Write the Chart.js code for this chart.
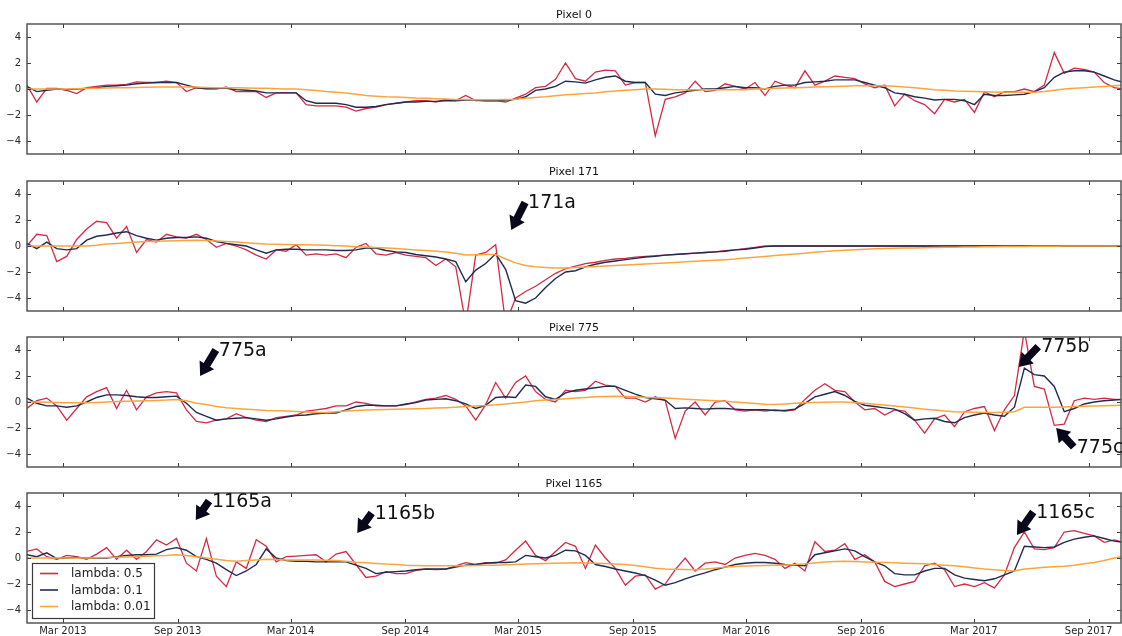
<!DOCTYPE html>
<html><head><meta charset="utf-8">
<script src="https://cdn.jsdelivr.net/npm/chart.js@4.4.1/dist/chart.umd.min.js"></script>
<style>
html,body{margin:0;padding:0;background:#fff;}
#wrap{position:relative;width:1122px;height:636px;overflow:hidden;background:#fff;}
#wrap canvas{position:absolute;left:0;}
</style></head>
<body><div id="wrap">
<canvas id="c0" width="1122" height="156" style="top:0px"></canvas>
<canvas id="c1" width="1122" height="156" style="top:157px"></canvas>
<canvas id="c2" width="1122" height="156" style="top:313px"></canvas>
<canvas id="c3" width="1122" height="167" style="top:469px"></canvas>
</div>
<script>
// ---- observation days (days since 2013-01-01) ----
const obsDays = [1,17,33,49,65,81,97,113,129,145,161,177,193,209,225,241,257,273,289,305,321,337,353,369,385,401,417,433,449,465,481,497,513,529,545,561,577,593,609,625,641,657,673,689,705,721,737,753,769,785,801,817,833,849,865,881,897,913,929,945,961,977,993,1009,1025,1041,1057,1073,1089,1105,1121,1137,1153,1169,1185,1201,1217,1233,1249,1265,1281,1297,1313,1329,1345,1361,1377,1393,1409,1425,1441,1457,1473,1489,1505,1521,1537,1553,1569,1585,1601,1617,1633,1649,1665,1681,1697,1713,1729,1745,1761];

// ---- x tick positions (days since 2013-01-01) and labels ----
const xTickDays = [59,243,424,608,789,973,1155,1339,1520,1704];
const xTickLabels = ['Mar 2013','Sep 2013','Mar 2014','Sep 2014','Mar 2015','Sep 2015','Mar 2016','Sep 2016','Mar 2017','Sep 2017'];
const yTickValues = [-4,-2,0,2,4];

const seriesLabels = ['lambda: 0.5','lambda: 0.1','lambda: 0.01'];
const panelTitles = ['Pixel 0','Pixel 171','Pixel 775','Pixel 1165'];

// ---- Pixel 0 ----
const p0_l05 = [0.3,-1.0,0.05,0.05,-0.1,-0.35,0.1,0.2,0.3,0.3,
0.35,0.55,0.5,0.5,0.6,0.5,-0.2,0.1,0.0,0.0,
0.15,-0.2,-0.2,-0.2,-0.65,-0.3,-0.3,-0.3,-1.2,-1.3,
-1.3,-1.3,-1.4,-1.7,-1.5,-1.4,-1.2,-1.1,-1.0,-0.9,
-0.9,-1.0,-0.8,-0.9,-0.5,-0.9,-0.9,-0.9,-1.0,-0.7,
-0.4,0.1,0.2,0.75,2.0,0.8,0.6,1.3,1.45,1.4,
0.3,0.5,0.5,-3.6,-0.8,-0.6,-0.3,0.6,-0.2,-0.1,
0.4,0.2,0.0,0.5,-0.5,0.6,0.3,0.1,1.4,0.3,
0.6,1.0,0.9,0.8,0.4,0.1,0.3,-1.3,-0.4,-0.9,
-1.2,-1.9,-0.8,-1.0,-0.8,-1.8,-0.2,-0.6,-0.2,-0.2,
0.0,-0.2,0.3,2.8,1.2,1.6,1.5,1.3,0.5,0.1,0.0];
const p0_l01 = [0.2,-0.2,-0.1,0.0,-0.05,0.0,0.05,0.1,0.2,0.25,
0.3,0.4,0.45,0.5,0.5,0.5,0.3,0.1,0.05,0.05,
0.05,-0.05,-0.1,-0.15,-0.3,-0.3,-0.3,-0.3,-0.9,-1.1,
-1.1,-1.1,-1.2,-1.4,-1.4,-1.35,-1.2,-1.1,-1.0,-1.0,
-0.95,-0.95,-0.9,-0.9,-0.85,-0.85,-0.9,-0.9,-0.85,-0.8,
-0.6,-0.1,0.0,0.2,0.6,0.55,0.45,0.7,0.9,1.0,
0.6,0.5,0.5,-0.4,-0.5,-0.3,-0.2,-0.1,0.0,0.0,
0.1,0.2,0.1,0.1,0.0,0.2,0.3,0.3,0.5,0.55,
0.6,0.7,0.7,0.7,0.5,0.3,0.1,-0.3,-0.4,-0.6,
-0.7,-0.85,-0.8,-0.8,-0.9,-1.2,-0.4,-0.5,-0.5,-0.45,
-0.4,-0.2,0.1,0.9,1.3,1.4,1.4,1.3,1.0,0.7,0.5];
const p0_l001 = [0.0,0.0,0.0,0.0,0.0,0.02,0.05,0.05,0.08,0.1,
0.1,0.12,0.13,0.15,0.15,0.15,0.15,0.15,0.12,0.1,
0.1,0.1,0.08,0.05,0.05,0.02,0.0,0.0,-0.05,-0.12,
-0.2,-0.25,-0.3,-0.4,-0.5,-0.55,-0.6,-0.62,-0.65,-0.7,
-0.72,-0.75,-0.77,-0.8,-0.8,-0.82,-0.82,-0.82,-0.8,-0.78,
-0.72,-0.65,-0.6,-0.52,-0.45,-0.4,-0.35,-0.3,-0.22,-0.15,
-0.1,-0.05,0.0,0.0,-0.02,-0.05,-0.05,-0.05,-0.05,-0.05,
-0.05,-0.05,-0.05,0.0,0.02,0.05,0.08,0.1,0.12,0.15,
0.18,0.2,0.22,0.25,0.25,0.25,0.25,0.22,0.15,0.1,
0.02,-0.05,-0.1,-0.15,-0.18,-0.2,-0.22,-0.23,-0.25,-0.25,
-0.25,-0.25,-0.2,-0.1,0.0,0.05,0.1,0.15,0.2,0.25,0.3];

// ---- Pixel 171 ----
const p171_l05 = [0.0,0.9,0.8,-1.2,-0.8,0.5,1.3,1.9,1.8,0.6,
1.5,-0.5,0.5,0.3,0.9,0.7,0.6,0.9,0.5,-0.1,
0.2,0.0,-0.3,-0.7,-1.0,-0.3,-0.4,0.1,-0.7,-0.6,
-0.7,-0.6,-0.9,-0.1,0.2,-0.6,-0.7,-0.5,-0.7,-0.8,
-0.9,-1.5,-1.0,-1.6,-6.0,-0.7,-0.5,0.1,-6.0,-4.0,
-3.5,-3.1,-2.6,-2.1,-1.75,-1.55,-1.35,-1.25,-1.1,-1.0,
-0.95,-0.85,-0.8,-0.75,-0.7,-0.65,-0.6,-0.55,-0.5,-0.45,
-0.35,-0.3,-0.2,-0.1,0.0,0.0,0.0,0.0,0.0,0.0,
0.0,0.0,0.0,0.0,0.0,0.0,0.0,0.0,0.0,0.0,
0.0,0.0,0.0,0.0,0.0,0.0,0.0,0.0,0.0,0.0,
0.0,0.0,0.0,0.0,0.0,0.0,0.0,0.0,0.0,0.0,0.0];
const p171_l01 = [0.2,-0.2,0.3,-0.2,-0.3,-0.2,0.45,0.75,0.85,1.0,
1.1,0.8,0.6,0.45,0.6,0.65,0.65,0.7,0.6,0.35,
0.2,0.1,0.0,-0.3,-0.55,-0.3,-0.25,-0.25,-0.3,-0.3,
-0.3,-0.35,-0.35,-0.3,-0.15,-0.15,-0.35,-0.45,-0.5,-0.65,
-0.75,-0.85,-1.0,-1.2,-2.75,-1.85,-1.35,-0.6,-1.8,-4.2,
-4.4,-4.0,-3.2,-2.5,-2.0,-1.9,-1.6,-1.4,-1.25,-1.15,
-1.05,-0.95,-0.85,-0.8,-0.7,-0.65,-0.6,-0.55,-0.5,-0.45,
-0.4,-0.3,-0.25,-0.15,-0.05,0.0,0.0,0.0,0.0,0.0,
0.0,0.0,0.0,0.0,0.0,0.0,0.0,0.0,0.0,0.0,
0.0,0.0,0.0,0.0,0.0,0.0,0.0,0.0,0.0,0.0,
0.0,0.0,0.0,0.0,0.0,0.0,0.0,0.0,0.0,0.0,0.0];
const p171_l001 = [0.0,0.0,0.0,0.0,0.0,0.0,0.0,0.05,0.15,0.2,
0.25,0.3,0.35,0.37,0.39,0.4,0.42,0.45,0.43,0.38,
0.34,0.3,0.25,0.2,0.16,0.14,0.12,0.1,0.09,0.08,
0.05,0.02,0.0,-0.05,-0.08,-0.12,-0.16,-0.2,-0.25,-0.3,
-0.35,-0.4,-0.47,-0.55,-0.7,-0.68,-0.66,-0.65,-1.0,-1.3,
-1.5,-1.6,-1.65,-1.7,-1.7,-1.66,-1.62,-1.58,-1.54,-1.5,
-1.46,-1.42,-1.38,-1.34,-1.3,-1.26,-1.22,-1.18,-1.14,-1.1,
-1.05,-1.0,-0.93,-0.86,-0.8,-0.74,-0.68,-0.62,-0.55,-0.48,
-0.42,-0.37,-0.32,-0.28,-0.25,-0.22,-0.2,-0.18,-0.16,-0.15,
-0.13,-0.12,-0.1,-0.09,-0.08,-0.07,-0.06,-0.05,-0.04,-0.03,
-0.03,-0.02,-0.02,-0.01,0.0,0.0,0.0,0.0,0.0,0.0,0.0];

// ---- Pixel 775 ----
const p775_l05 = [-0.5,0.1,0.3,-0.3,-1.4,-0.5,0.4,0.8,1.1,-0.5,
0.9,-0.6,0.4,0.7,0.8,0.7,-0.6,-1.5,-1.6,-1.4,
-1.3,-0.9,-1.2,-1.4,-1.5,-1.2,-1.1,-1.0,-0.7,-0.6,
-0.5,-0.3,-0.3,0.0,-0.1,-0.3,-0.3,-0.3,-0.2,0.0,
0.2,0.3,0.5,0.2,-0.3,-1.4,-0.2,1.5,0.3,1.5,
2.0,0.8,0.2,0.0,0.9,0.8,0.9,1.6,1.3,1.2,
0.3,0.3,0.0,0.4,0.1,-2.8,-0.7,0.0,-1.0,0.0,
0.1,-0.6,-0.7,-0.6,-0.7,-0.6,-0.7,-0.6,0.2,0.9,
1.4,0.9,0.8,0.0,-0.6,-0.5,-1.0,-0.6,-0.7,-1.4,
-2.4,-1.3,-1.0,-1.9,-0.75,-0.5,-0.35,-2.2,-0.6,0.5,
5.5,1.2,1.0,-1.8,-1.7,0.1,0.3,0.2,0.3,0.2,0.2];
const p775_l01 = [0.3,-0.1,-0.3,-0.3,-0.4,-0.3,0.0,0.35,0.55,0.55,
0.5,0.4,0.35,0.35,0.4,0.45,-0.1,-0.8,-1.1,-1.4,
-1.3,-1.25,-1.2,-1.3,-1.4,-1.3,-1.15,-1.05,-1.0,-0.9,
-0.85,-0.85,-0.6,-0.35,-0.25,-0.25,-0.3,-0.3,-0.15,-0.05,
0.15,0.2,0.25,0.1,-0.15,-0.5,-0.25,0.35,0.4,0.35,
1.3,1.2,0.4,0.2,0.7,0.9,1.0,1.1,1.2,1.2,
0.9,0.6,0.35,0.25,0.15,-0.5,-0.45,-0.5,-0.55,-0.5,
-0.5,-0.55,-0.6,-0.6,-0.6,-0.65,-0.65,-0.55,-0.1,0.4,
0.6,0.8,0.5,0.05,-0.25,-0.35,-0.45,-0.55,-0.9,-1.4,
-1.3,-1.25,-1.5,-1.6,-1.2,-1.0,-0.85,-1.0,-1.1,-0.4,
2.6,2.1,2.0,1.2,-0.75,-0.5,-0.15,0.0,0.1,0.15,0.2];
const p775_l001 = [0.0,0.0,-0.02,-0.03,-0.05,-0.05,-0.05,-0.03,0.0,0.03,
0.05,0.07,0.1,0.12,0.15,0.2,0.1,-0.1,-0.2,-0.35,
-0.45,-0.5,-0.55,-0.6,-0.65,-0.68,-0.7,-0.74,-0.77,-0.8,
-0.8,-0.75,-0.7,-0.65,-0.62,-0.6,-0.57,-0.55,-0.53,-0.51,
-0.5,-0.47,-0.44,-0.4,-0.35,-0.3,-0.26,-0.22,-0.15,-0.08,
0.0,0.1,0.15,0.2,0.25,0.3,0.35,0.4,0.43,0.45,
0.43,0.4,0.36,0.33,0.3,0.26,0.22,0.18,0.14,0.1,
0.05,0.0,-0.06,-0.12,-0.17,-0.2,-0.15,-0.1,-0.06,-0.03,
-0.01,0.0,0.0,-0.05,-0.1,-0.17,-0.24,-0.31,-0.38,-0.47,
-0.55,-0.62,-0.7,-0.75,-0.77,-0.79,-0.8,-0.8,-0.78,-0.75,
-0.4,-0.4,-0.4,-0.4,-0.38,-0.35,-0.33,-0.3,-0.28,-0.26,-0.25];

// ---- Pixel 1165 ----
const p1165_l05 = [0.5,0.7,0.1,-0.1,0.2,0.1,-0.1,0.3,0.8,-0.1,
0.6,-0.1,0.5,1.4,1.0,1.5,-0.4,-1.0,1.5,-1.4,
-2.2,-0.3,-0.8,1.4,0.9,-0.3,0.1,0.15,0.2,0.25,
-0.3,0.3,0.5,-0.5,-1.5,-1.4,-1.05,-1.2,-1.2,-0.95,
-0.85,-0.9,-0.85,-0.6,-0.35,-0.5,-0.35,-0.4,-0.15,0.6,
1.3,0.2,-0.2,0.5,1.2,0.9,-0.8,1.0,0.0,-0.8,
-2.1,-1.4,-1.3,-2.4,-2.0,-0.9,0.0,-1.0,-0.4,-0.3,
-0.5,0.0,0.2,0.35,0.2,-0.1,-0.8,-0.4,-1.0,1.25,
0.5,0.6,1.1,-0.1,0.25,-0.3,-1.8,-2.2,-2.0,-1.8,
-0.6,-0.4,-0.9,-2.2,-2.0,-2.2,-1.9,-2.3,-1.3,0.8,
2.0,0.7,0.65,0.8,2.0,2.1,1.9,1.7,1.2,1.4,1.2];
const p1165_l01 = [0.25,0.1,0.4,-0.05,0.0,0.05,0.0,0.0,0.0,0.1,
0.2,0.25,0.25,0.3,0.65,0.8,0.6,0.1,-0.1,-0.4,
-0.9,-1.35,-1.0,-0.5,0.7,0.0,-0.2,-0.25,-0.25,-0.3,
-0.3,-0.3,-0.3,-0.55,-0.8,-1.2,-1.1,-1.05,-1.0,-0.9,
-0.85,-0.85,-0.85,-0.7,-0.55,-0.5,-0.4,-0.35,-0.35,-0.3,
0.2,0.1,0.0,0.2,0.6,0.55,0.2,-0.5,-0.65,-0.85,
-1.0,-1.15,-1.35,-1.7,-2.1,-1.9,-1.6,-1.35,-1.15,-0.9,
-0.7,-0.5,-0.4,-0.35,-0.35,-0.4,-0.5,-0.55,-0.6,0.25,
0.4,0.55,0.7,0.55,0.1,-0.3,-0.6,-1.2,-1.3,-1.3,
-1.0,-0.8,-0.8,-1.3,-1.55,-1.65,-1.75,-1.6,-1.3,-1.0,
0.9,0.85,0.8,0.85,1.2,1.45,1.6,1.7,1.5,1.3,1.2];
const p1165_l001 = [0.0,0.0,0.0,0.0,0.0,0.0,0.0,0.02,0.04,0.06,
0.08,0.1,0.13,0.17,0.2,0.25,0.2,0.1,0.0,-0.1,
-0.2,-0.25,-0.2,-0.15,-0.1,-0.12,-0.15,-0.15,-0.15,-0.15,
-0.17,-0.2,-0.25,-0.32,-0.37,-0.42,-0.47,-0.5,-0.55,-0.58,
-0.6,-0.6,-0.6,-0.6,-0.6,-0.58,-0.56,-0.55,-0.52,-0.5,
-0.47,-0.45,-0.42,-0.4,-0.38,-0.37,-0.38,-0.4,-0.43,-0.46,
-0.5,-0.58,-0.68,-0.78,-0.85,-0.87,-0.88,-0.9,-0.85,-0.78,
-0.7,-0.65,-0.62,-0.6,-0.57,-0.55,-0.53,-0.5,-0.45,-0.38,
-0.3,-0.27,-0.25,-0.27,-0.3,-0.33,-0.35,-0.37,-0.4,-0.42,
-0.45,-0.5,-0.55,-0.6,-0.68,-0.76,-0.84,-0.9,-0.97,-1.0,
-0.85,-0.78,-0.72,-0.68,-0.63,-0.55,-0.45,-0.35,-0.2,0.0,0.15];

// ---- annotations: arrow tip and text anchor, in data coordinates (day, value) ----
const notes171 = [{label:'171a', tip:[778,1.23], text:[805,3.27]}];
const notes775 = [
  {label:'775a', tip:[279,2.0], text:[309,3.92]},
  {label:'775b', tip:[1592,2.69], text:[1628,4.19]},
  {label:'775c', tip:[1652,-2.0], text:[1685,-3.54]}
];
const notes1165 = [
  {label:'1165a', tip:[272,2.92], text:[298,4.31]},
  {label:'1165b', tip:[531,1.92], text:[559,3.38]},
  {label:'1165c', tip:[1589,1.77], text:[1620,3.46]}
];

// ---- styling ----
const COLORS = ['#d42a45', '#1e2c52', '#fda53c'];
const WIDTHS = [1.3, 1.4, 1.5];
Chart.defaults.font.family = '"DejaVu Sans", sans-serif';
Chart.defaults.color = '#262626';

function drawArrow(ctx, tx, ty, hx, hy) {
  const dx = hx - tx, dy = hy - ty, L = Math.hypot(dx, dy);
  const ux = dx / L, uy = dy / L, nx = -uy, ny = ux;
  const sw = 3.8, hw = 8.5, hl = 13;
  const bx = hx - ux * hl, by = hy - uy * hl;
  ctx.beginPath();
  ctx.moveTo(tx + nx * sw, ty + ny * sw);
  ctx.lineTo(bx + nx * sw, by + ny * sw);
  ctx.lineTo(bx + nx * hw, by + ny * hw);
  ctx.lineTo(hx, hy);
  ctx.lineTo(bx - nx * hw, by - ny * hw);
  ctx.lineTo(bx - nx * sw, by - ny * sw);
  ctx.lineTo(tx - nx * sw, ty - ny * sw);
  ctx.closePath();
  ctx.fill();
}

function makeDecor(notes, withLegend) {
  return {
    id: 'decor',
    afterDatasetsDraw(chart) {
      if (!withLegend) return;
      const ctx = chart.ctx, a = chart.chartArea;
      const bx = a.left + 5, by = a.bottom - 60, bw = 122, bh = 55;
      ctx.save();
      ctx.fillStyle = '#fff';
      ctx.fillRect(bx, by, bw, bh);
      ctx.strokeStyle = '#3a3a3a';
      ctx.lineWidth = 1.2;
      ctx.strokeRect(bx + 0.5, by + 0.5, bw, bh);
      ctx.font = '12px "DejaVu Sans"';
      ctx.textBaseline = 'middle';
      ctx.textAlign = 'left';
      chart.data.datasets.forEach((ds, k) => {
        const yy = by + 10.5 + k * 16.5;
        ctx.strokeStyle = ds.borderColor;
        ctx.lineWidth = 1.6;
        ctx.beginPath();
        ctx.moveTo(bx + 8, yy);
        ctx.lineTo(bx + 26, yy);
        ctx.stroke();
        ctx.fillStyle = '#1a1a1a';
        ctx.fillText(ds.label, bx + 39, yy + 0.5);
      });
      ctx.restore();
    },
    afterDraw(chart) {
      const ctx = chart.ctx, a = chart.chartArea;
      const xs = chart.scales.x, ys = chart.scales.y;
      ctx.save();
      ctx.strokeStyle = '#3c3c3c';
      ctx.lineWidth = 1;
      ctx.beginPath();
      xs.ticks.forEach(t => {
        const px = Math.round(xs.getPixelForValue(t.value)) + 0.5;
        ctx.moveTo(px, a.top); ctx.lineTo(px, a.top + 4);
        ctx.moveTo(px, a.bottom); ctx.lineTo(px, a.bottom - 4);
      });
      ys.ticks.forEach(t => {
        const py = Math.round(ys.getPixelForValue(t.value)) + 0.5;
        ctx.moveTo(a.left, py); ctx.lineTo(a.left + 4, py);
        ctx.moveTo(a.right, py); ctx.lineTo(a.right - 4, py);
      });
      ctx.stroke();
      ctx.lineWidth = 1.4;
      ctx.strokeStyle = '#4a4a4a';
      ctx.strokeRect(a.left, a.top, a.right - a.left, a.bottom - a.top);
      // annotations
      ctx.font = '19px "DejaVu Sans"';
      ctx.textBaseline = 'middle';
      ctx.textAlign = 'left';
      notes.forEach(n => {
        const hx = xs.getPixelForValue(n.tip[0]), hy = ys.getPixelForValue(n.tip[1]);
        const tx = xs.getPixelForValue(n.text[0]), ty = ys.getPixelForValue(n.text[1]);
        ctx.fillStyle = '#08081a';
        drawArrow(ctx, tx - 3, ty - 1, hx, hy);
        ctx.fillStyle = '#111';
        ctx.fillText(n.label, tx, ty);
      });
      ctx.restore();
    }
  };
}

function buildChart(canvasId, title, series, notes, isBottom) {
  const datasets = series.map((vals, k) => ({
    label: seriesLabels[k],
    data: obsDays.map((d, i) => ({x: d, y: vals[i]})),
    borderColor: COLORS[k],
    backgroundColor: COLORS[k],
    borderWidth: WIDTHS[k],
    pointRadius: 0,
    tension: 0,
    fill: false,
    order: 3 - k
  }));
  return new Chart(document.getElementById(canvasId), {
    type: 'line',
    data: {datasets},
    options: {
      responsive: false,
      animation: false,
      devicePixelRatio: 1,
      events: [],
      layout: {padding: {top: 0, right: 1, bottom: 0, left: 0}},
      plugins: {
        legend: {display: false},
        tooltip: {enabled: false},
        title: {
          display: true, text: title, fullSize: false,
          color: '#111',
          font: {size: 11, weight: 'normal', lineHeight: 13 / 11},
          padding: {top: 9, bottom: 2}
        }
      },
      scales: {
        x: {
          type: 'linear',
          min: 1.3, max: 1756,
          grid: {display: false, drawTicks: false},
          border: {display: false},
          ticks: {
            display: isBottom, autoSkip: false, maxRotation: 0, padding: 2,
            font: {size: 10}, color: '#262626',
            callback: (v, i) => xTickLabels[i]
          },
          afterBuildTicks: s => { s.ticks = xTickDays.map(v => ({value: v})); },
          afterFit: s => { s.height = isBottom ? 13 : 2; s.paddingLeft = 0; s.paddingRight = 0; }
        },
        y: {
          type: 'linear',
          min: -5, max: 5,
          grid: {display: false, drawTicks: false},
          border: {display: false},
          ticks: {
            padding: 6, font: {size: 10}, color: '#262626',
            callback: v => String(v).replace('-', '\u2212')
          },
          afterBuildTicks: s => { s.ticks = yTickValues.map(v => ({value: v})); },
          afterFit: s => { s.width = 27; s.paddingTop = 0; s.paddingBottom = 0; }
        }
      }
    },
    plugins: [makeDecor(notes, isBottom)]
  });
}

buildChart('c0', panelTitles[0], [p0_l05, p0_l01, p0_l001], [], false);
buildChart('c1', panelTitles[1], [p171_l05, p171_l01, p171_l001], notes171, false);
buildChart('c2', panelTitles[2], [p775_l05, p775_l01, p775_l001], notes775, false);
buildChart('c3', panelTitles[3], [p1165_l05, p1165_l01, p1165_l001], notes1165, true);
</script>
</body></html>
